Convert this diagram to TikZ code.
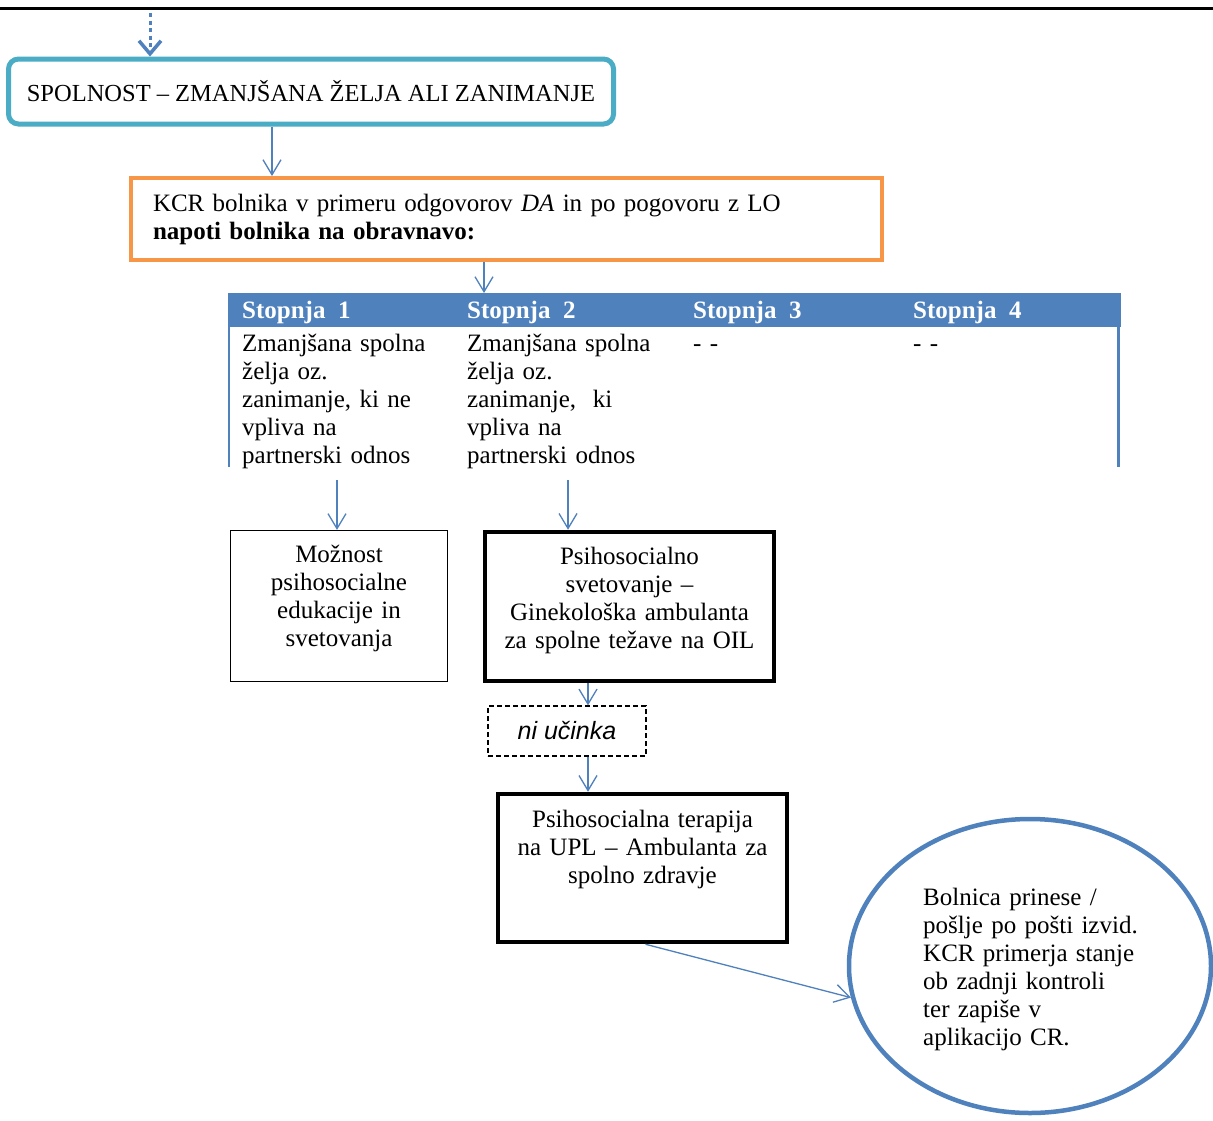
\documentclass[tikz,border=0pt]{standalone}
\usepackage{fontspec}
\setmainfont{Liberation Serif}
\newfontfamily\arialfont{Liberation Sans}
\usetikzlibrary{arrows.meta,shapes.geometric}
\definecolor{tealc}{HTML}{4BACC6}
\definecolor{orangec}{HTML}{F79646}
\definecolor{bluec}{HTML}{4F81BD}
\begin{document}
\begin{tikzpicture}[x=1pt,y=-1pt,
  txt/.style={font=\fontsize{25}{28}\selectfont},
  arr/.style={draw=bluec,line width=1.3pt,-{Straight Barb[length=15pt,width=18pt,line width=1.3pt]}},
  dotarr/.style={draw=bluec,line width=3pt,dash pattern=on 4pt off 3.5pt,-{Straight Barb[length=13pt,width=22pt,line width=3.5pt]}},
  headtxt/.style={txt,text=white,font=\fontsize{25}{28}\selectfont\bfseries,anchor=base west,inner sep=0pt},
  cell/.style={txt,anchor=base west,inner sep=0pt,text width=210pt,align=left},
  thinbox/.style={draw=black,line width=1.2pt,txt,align=center,inner sep=0pt},
  thickbox/.style={draw=black,line width=4.5pt,txt,align=center,inner sep=0pt}
]
\useasboundingbox (0,0) rectangle (1213,1120);
\fill[white] (0,0) rectangle (1213,1120);

% page rule
\draw[black,line width=3pt] (0,8) -- (1213,8);

% title box
\node[draw=tealc,line width=5pt,rounded corners=10pt,minimum width=605pt,minimum height=65pt,
      inner sep=0pt,font=\fontsize{24.5}{28}\selectfont] (b1) at (311,91.5)
  {SPOLNOST -- ZMANJŠANA ŽELJA ALI ZANIMANJE};
\coordinate (top) at (150,13);
\draw[dotarr] (top) -- (b1.north -| top);

% referral box
\node[draw=orangec,line width=4pt,minimum width=751pt,minimum height=82pt,inner xsep=0pt,
      txt,text width=707pt,align=left] (b2) at (506.5,219)
  {KCR bolnika v primeru odgovorov \textit{DA} in po pogovoru z LO\\\textbf{napoti bolnika na obravnavo:}};
\coordinate (a1) at (272,0);
\draw[arr] (b1.south -| a1) -- (b2.north -| a1);

% stage table
\fill[bluec] (228,293) coordinate (tl) rectangle (1121,327);
\draw[bluec,line width=2pt] (229,327) -- (229,467);
\draw[bluec,line width=3pt] (1118.5,293) -- (1118.5,467);
\node[headtxt] (h1) at (242,318.5) {Stopnja~~1};
\node[headtxt] (h2) at (467,318.5) {Stopnja~~2};
\node[headtxt] (h3) at (693,318.5) {Stopnja~~3};
\node[headtxt] (h4) at (913,318.5) {Stopnja~~4};
\coordinate (a2) at (484,0);
\draw[arr] (b2.south -| a2) -- (tl -| a2);

\node[cell] (c1) at (242,351.5) {Zmanjšana spolna\\želja oz.\\zanimanje, ki ne\\vpliva na\\partnerski odnos};
\node[cell] (c2) at (467,351.5) {Zmanjšana spolna\\želja oz.\\zanimanje,~~ki\\vpliva na\\partnerski odnos};
\node[cell] (c3) at (693,351.5) {- -};
\node[cell] (c4) at (913,351.5) {- -};

% outcome boxes
\node[thinbox,minimum width=217pt,minimum height=151pt,text width=210pt] (m) at (339,606)
  {Možnost\\psihosocialne\\edukacije in\\svetovanja\rule[-20pt]{0pt}{1pt}};
\node[thickbox,minimum width=289pt,minimum height=149pt,text width=280pt] (p) at (629.5,606.5)
  {Psihosocialno\\svetovanje --\\Ginekološka ambulanta\\za spolne težave na OIL\rule[-17pt]{0pt}{1pt}};
\coordinate (s1) at (337,480);
\coordinate (s2) at (568,480);
\draw[arr] (s1) -- (s1 |- m.north);
\draw[arr] (s2) -- (s2 |- p.north);

\node[draw=black,line width=1.3pt,dash pattern=on 5pt off 3pt,minimum width=158pt,minimum height=50pt,
      inner sep=0pt,font=\arialfont\itshape\fontsize{25}{28}\selectfont] (n) at (567,731) {ni učinka};
\coordinate (a3) at (588,0);
\draw[arr] (p.south -| a3) -- (n.north -| a3);

\node[thickbox,minimum width=289pt,minimum height=148pt,text width=280pt] (t) at (642.5,868)
  {Psihosocialna terapija\\na UPL -- Ambulanta za\\spolno zdravje\rule[-42pt]{0pt}{1pt}};
\draw[arr] (n.south -| a3) -- (t.north -| a3);

% closing note
\node[ellipse,draw=bluec,line width=4.5pt,minimum width=362pt,minimum height=294pt,inner sep=0pt] (ell) at (1030,966) {};
\node[cell,text width=230pt] (et) at (923,905)
  {Bolnica prinese /\\pošlje po pošti izvid.\\KCR primerja stanje\\ob zadnji kontroli\\ter zapiše v\\aplikacijo CR.};
\draw[arr] ([xshift=3pt]t.south) -- (ell.190);
\end{tikzpicture}
\end{document}
